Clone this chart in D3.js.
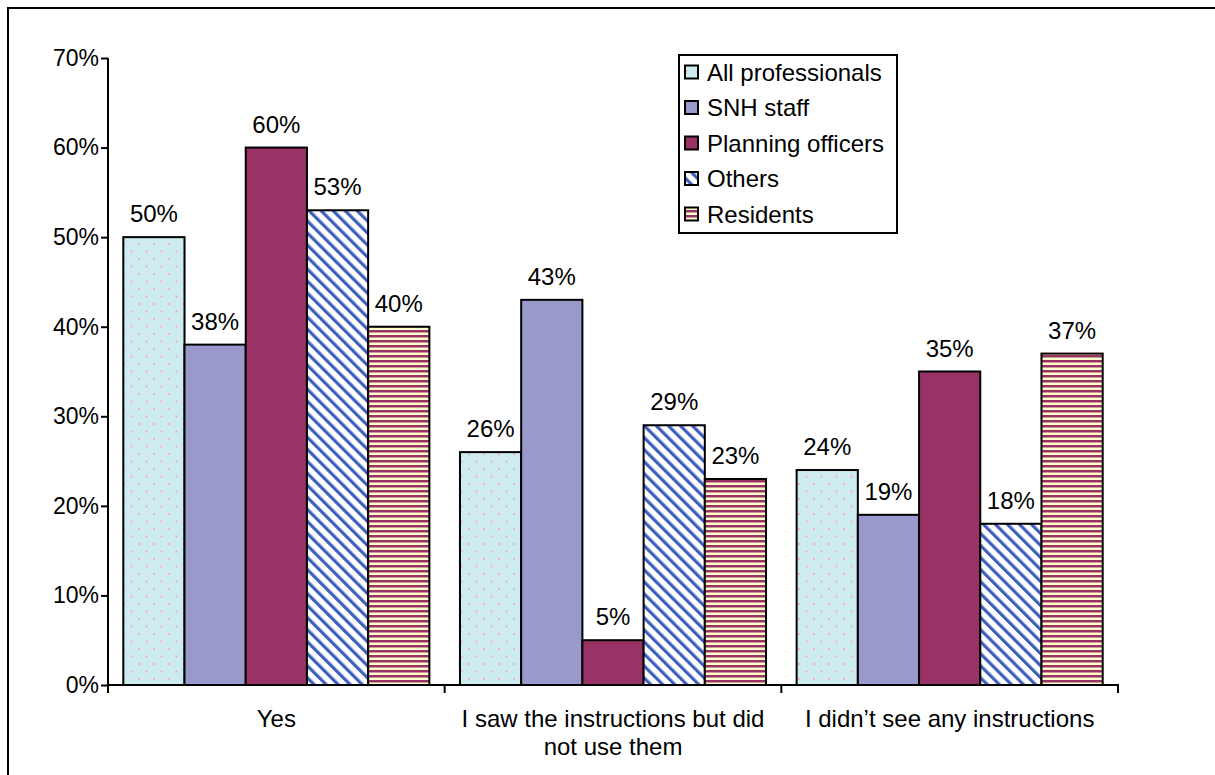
<!DOCTYPE html>
<html>
<head>
<meta charset="utf-8">
<script src="https://cdn.jsdelivr.net/npm/d3@7"></script>
<style>
  html, body { margin: 0; padding: 0; background: #fff; }
  svg { display: block; }
  text { font-family: "Liberation Sans", Arial, sans-serif; fill: #000; }
</style>
</head>
<body>
<svg id="chart" width="1215" height="775"></svg>
<script>
const categories = [
  ["Yes"],
  ["I saw the instructions but did", "not use them"],
  ["I didn\u2019t see any instructions"]
];
const seriesNames = ["All professionals", "SNH staff", "Planning officers", "Others", "Residents"];
const allProfessionals = [50, 26, 24];
const snhStaff = [38, 43, 19];
const planningOfficers = [60, 5, 35];
const others = [53, 29, 18];
const residents = [40, 23, 37];
const yTicks = [0, 10, 20, 30, 40, 50, 60, 70];

const seriesValues = [allProfessionals, snhStaff, planningOfficers, others, residents];
const fills = ["url(#pDots)", "#9999CC", "#993366", "url(#pDiag)", "url(#pHoriz)"];
const FS = 24;

const svg = d3.select("#chart");
const defs = svg.append("defs");

// dotted pattern
const pd = defs.append("pattern").attr("id", "pDots").attr("patternUnits", "userSpaceOnUse")
  .attr("width", 15).attr("height", 15);
pd.append("rect").attr("width", 15).attr("height", 15).attr("fill", "#CCECEF");
pd.append("circle").attr("cx", 4).attr("cy", 4).attr("r", 1).attr("fill", "#FF99CC");
pd.append("circle").attr("cx", 11.5).attr("cy", 11.5).attr("r", 1).attr("fill", "#FF99CC");

// diagonal stripes
const pg = defs.append("pattern").attr("id", "pDiag").attr("patternUnits", "userSpaceOnUse")
  .attr("width", 8.5).attr("height", 8.5).attr("patternTransform", "rotate(-45)");
pg.append("rect").attr("width", 8.5).attr("height", 8.5).attr("fill", "#FFFFFF");
pg.append("rect").attr("width", 3.2).attr("height", 8.5).attr("fill", "#3F5FBF");

// horizontal stripes
const ph = defs.append("pattern").attr("id", "pHoriz").attr("patternUnits", "userSpaceOnUse")
  .attr("width", 10).attr("height", 5);
ph.append("rect").attr("width", 10).attr("height", 5).attr("fill", "#FFFFCC");
ph.append("rect").attr("width", 10).attr("height", 2.5).attr("fill", "#993366");

// outer border
svg.append("rect").attr("x", 8).attr("y", 8).attr("width", 1212).attr("height", 772)
  .attr("fill", "none").attr("stroke", "#000").attr("stroke-width", 2);

const plot = { left: 108, right: 1118, top: 58, bottom: 685 };

const x0 = d3.scaleBand().domain(d3.range(categories.length)).range([plot.left, plot.right]).padding(0);
const x1 = d3.scaleBand().domain(d3.range(seriesNames.length)).range([0, x0.bandwidth()])
  .paddingInner(0).paddingOuter(0.25);
const y = d3.scaleLinear().domain([0, 70]).range([plot.bottom, plot.top]);

// bars
const g = svg.append("g");
categories.forEach((c, ci) => {
  seriesValues.forEach((vals, si) => {
    const v = vals[ci];
    const bx = x0(ci) + x1(si);
    g.append("rect")
      .attr("x", bx).attr("y", y(v))
      .attr("width", x1.bandwidth()).attr("height", y(0) - y(v))
      .attr("fill", fills[si]).attr("stroke", "#000").attr("stroke-width", 2);
    g.append("text")
      .attr("x", bx + x1.bandwidth() / 2).attr("y", y(v) - 15)
      .attr("text-anchor", "middle").attr("font-size", FS)
      .text(v + "%");
  });
});

// y axis
const yAxis = d3.axisLeft(y).tickValues(yTicks).tickFormat(d => d + "%").tickSize(7).tickPadding(2);
const ya = svg.append("g").attr("transform", `translate(${plot.left},0)`).call(yAxis);
ya.select(".domain").attr("stroke", "#000").attr("stroke-width", 2).attr("d", `M0,${plot.top}V${plot.bottom}`);
ya.selectAll(".tick line").attr("stroke", "#000").attr("stroke-width", 2);
ya.selectAll(".tick text").attr("font-size", 23).attr("font-family", "Liberation Sans, Arial, sans-serif").attr("fill", "#000");

// x axis
const xAxisLine = svg.append("g");
xAxisLine.append("line").attr("x1", plot.left - 1).attr("x2", plot.right + 1)
  .attr("y1", plot.bottom).attr("y2", plot.bottom).attr("stroke", "#000").attr("stroke-width", 2);
const xBounds = d3.range(categories.length).map(i => x0(i)).concat([x0(categories.length - 1) + x0.bandwidth()]);
xAxisLine.selectAll("line.tk").data(xBounds).enter().append("line").attr("class", "tk")
  .attr("x1", d => d).attr("x2", d => d).attr("y1", plot.bottom).attr("y2", plot.bottom + 8)
  .attr("stroke", "#000").attr("stroke-width", 2);

categories.forEach((lines, ci) => {
  const t = svg.append("text").attr("x", x0(ci) + x0.bandwidth() / 2).attr("y", 727)
    .attr("text-anchor", "middle").attr("font-size", FS);
  lines.forEach((ln, li) => {
    t.append("tspan").attr("x", x0(ci) + x0.bandwidth() / 2).attr("dy", li === 0 ? 0 : 28).text(ln);
  });
});

// legend
const lg = svg.append("g");
lg.append("rect").attr("x", 679).attr("y", 55).attr("width", 218).attr("height", 178)
  .attr("fill", "#fff").attr("stroke", "#000").attr("stroke-width", 2);
seriesNames.forEach((n, i) => {
  const cy = 72 + i * 35.5;
  lg.append("rect").attr("x", 685).attr("y", cy - 6.5).attr("width", 13).attr("height", 13)
    .attr("fill", fills[i]).attr("stroke", "#000").attr("stroke-width", 2);
  lg.append("text").attr("x", 707).attr("y", cy + 8.5).attr("font-size", FS).text(n);
});
</script>
</body>
</html>
